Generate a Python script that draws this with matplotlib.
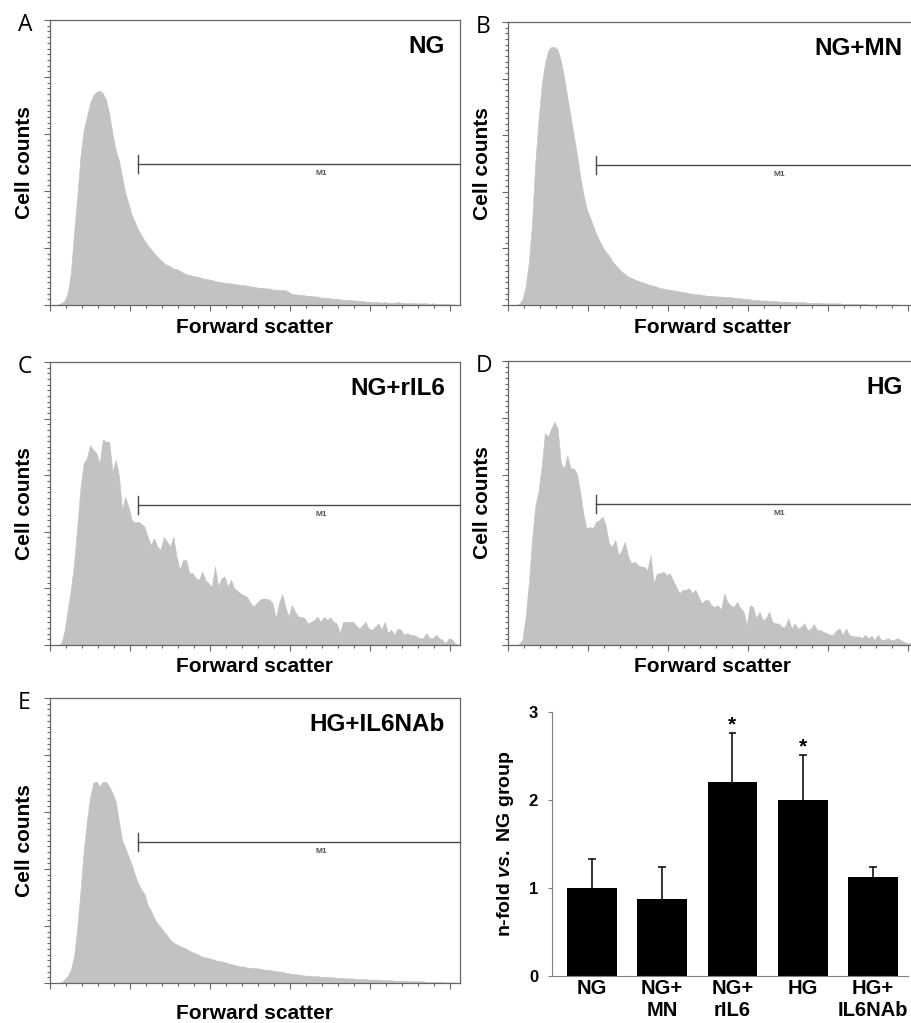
import matplotlib
matplotlib.use('Agg')
import matplotlib.pyplot as plt
import matplotlib.ticker as ticker
import numpy as np


# forward scatter histograms, 8 channels per bin over a 0-1024 channel range
bin_width = 8

hist_ng = [0, 0, 1, 3, 7, 20, 56, 126, 190, 260, 307, 330, 354, 368, 374, 376, 371, 360, 336, 301,
           272, 254, 225, 196, 178, 158, 146, 132, 123, 113, 105, 98, 91, 85, 79, 74, 70, 68, 64, 63,
           60, 57, 54, 53, 51, 50, 49, 47, 46, 45, 44, 42, 41, 40, 39, 38, 38, 37, 36, 35,
           35, 34, 33, 32, 31, 30, 30, 29, 29, 27, 27, 26, 26, 26, 23, 19, 19, 18, 18, 17,
           16, 16, 15, 15, 13, 13, 12, 12, 11, 11, 10, 9, 9, 9, 8, 8, 7, 7, 6, 6,
           5, 5, 5, 4, 5, 4, 4, 4, 5, 4, 4, 3, 4, 3, 3, 3, 3, 3, 2, 3,
           2, 2, 2, 2, 2, 1, 1, 0]

hist_ng_mn = [0, 0, 0, 2, 10, 32, 76, 144, 250, 326, 388, 426, 449, 456, 456, 451, 432, 403, 368, 335,
              300, 268, 229, 197, 171, 156, 141, 126, 114, 103, 94, 88, 78, 71, 65, 59, 55, 50, 48, 45,
              43, 41, 39, 37, 35, 34, 32, 30, 29, 28, 27, 26, 25, 24, 23, 22, 21, 20, 19, 19,
              18, 17, 16, 16, 16, 15, 15, 14, 14, 14, 13, 12, 12, 11, 11, 10, 9, 9, 8, 8,
              8, 7, 7, 7, 6, 6, 6, 6, 5, 5, 5, 5, 5, 4, 4, 4, 4, 4, 3, 3,
              3, 3, 3, 3, 2, 2, 2, 2, 2, 2, 2, 2, 1, 1, 1, 1, 1, 1, 1, 1,
              1, 1, 0, 0, 0, 0, 0, 0]

hist_ng_ril6 = [0, 0, 0, 3, 24, 62, 97, 144, 209, 277, 321, 330, 353, 345, 339, 321, 363, 359, 359, 306,
                327, 300, 239, 262, 244, 221, 216, 218, 214, 209, 191, 177, 189, 174, 168, 191, 183, 174, 191, 156,
                133, 150, 150, 127, 127, 118, 115, 130, 115, 109, 103, 139, 103, 118, 121, 103, 115, 100, 96, 91,
                88, 85, 75, 68, 74, 80, 82, 82, 80, 74, 47, 74, 90, 67, 50, 71, 59, 50, 50, 47,
                38, 41, 44, 50, 41, 50, 44, 49, 41, 38, 21, 41, 41, 41, 41, 35, 29, 35, 41, 29,
                27, 32, 38, 27, 41, 21, 27, 18, 29, 27, 18, 21, 18, 18, 15, 12, 12, 21, 12, 12,
                18, 12, 9, 3, 12, 10, 3, 0]

hist_hg = [0, 0, 0, 2, 9, 50, 109, 185, 244, 270, 314, 373, 367, 381, 393, 381, 320, 311, 334, 311,
           311, 302, 270, 232, 205, 208, 205, 217, 220, 226, 211, 179, 173, 185, 158, 167, 182, 156, 144, 147,
           141, 138, 138, 132, 158, 109, 126, 126, 129, 123, 126, 114, 103, 91, 97, 97, 100, 91, 97, 85,
           73, 79, 79, 70, 67, 70, 62, 91, 76, 70, 67, 76, 65, 59, 35, 70, 67, 47, 59, 44,
           47, 59, 41, 38, 38, 32, 32, 47, 29, 38, 29, 32, 38, 26, 29, 37, 26, 26, 23, 21,
           18, 18, 26, 29, 18, 29, 18, 16, 15, 15, 12, 18, 12, 16, 9, 18, 9, 9, 12, 9,
           9, 12, 9, 6, 3, 3, 0]

hist_hg_il6nab = [0, 0, 0, 1, 6, 12, 23, 47, 96, 161, 231, 284, 325, 351, 354, 345, 353, 353, 345, 333,
                  319, 284, 251, 237, 222, 208, 190, 175, 164, 156, 137, 127, 114, 105, 98, 91, 84, 76, 71, 68,
                  65, 63, 60, 57, 54, 52, 49, 46, 45, 44, 42, 40, 39, 38, 37, 35, 33, 32, 30, 29,
                  29, 27, 27, 26, 26, 25, 24, 23, 23, 22, 21, 20, 20, 18, 17, 16, 16, 15, 14, 13,
                  13, 12, 12, 12, 11, 11, 11, 10, 10, 9, 9, 9, 8, 8, 8, 7, 7, 7, 7, 6,
                  6, 6, 6, 5, 5, 5, 5, 4, 4, 4, 4, 4, 3, 3, 3, 3, 3, 2, 2, 2,
                  2, 2, 2, 1, 1, 1, 1, 0]

# M1 gate
m1_start = 221
m1_end = 1024
m1_level = 248

# summary bar chart
bar_groups = ['NG', 'NG+\nMN', 'NG+\nrIL6', 'HG', 'HG+\nIL6NAb']
bar_means = [1.0, 0.87, 2.21, 2.0, 1.12]
bar_err_up = [0.33, 0.37, 0.55, 0.51, 0.12]
bar_sig = [False, False, True, True, False]


HIST_GREY = '#c2c2c2'
FRAME_GREY = '#666666'
W, H = 911, 1023


def px_axes(fig, left, top, right, bottom):
    return fig.add_axes([left / W, 1 - bottom / H, (right - left) / W, (bottom - top) / H])


def plot_histogram(ax, counts, title, letter, xlabel_drop):
    centers = (np.arange(len(counts)) + 0.5) * bin_width
    ax.fill_between(centers, counts, 0, facecolor=HIST_GREY, edgecolor=HIST_GREY,
                    linewidth=0.4)
    ax.set_xlim(0, 1024)
    ax.set_ylim(0, 500)

    ax.xaxis.set_major_locator(ticker.MultipleLocator(200))
    ax.xaxis.set_minor_locator(ticker.MultipleLocator(40))
    ax.yaxis.set_major_locator(ticker.MultipleLocator(100))
    ax.yaxis.set_minor_locator(ticker.MultipleLocator(10))
    ax.tick_params(which='both', direction='out', color=FRAME_GREY, width=0.8,
                   labelbottom=False, labelleft=False)
    ax.tick_params(which='major', length=4)
    ax.tick_params(which='minor', length=2)
    for sp in ax.spines.values():
        sp.set_color(FRAME_GREY)
        sp.set_linewidth(0.9)

    # M1 marker
    ax.plot([m1_start, m1_end], [m1_level, m1_level], color='#4a4a4a', lw=1.0, clip_on=False)
    ax.plot([m1_start, m1_start], [m1_level - 16, m1_level + 16], color='#4a4a4a', lw=1.0)
    ax.text(678, m1_level - 17, 'M1', fontsize=6, fontweight='bold', color='#555555',
            ha='center', va='center')

    ax.text(0.963, 0.885, title, transform=ax.transAxes, ha='right', va='baseline',
            fontsize=17.5, fontweight='bold')
    ax.text(-0.078, 0.96, letter, transform=ax.transAxes, ha='left', va='baseline',
            fontsize=16.5, family='Open Sans')
    ax.text(-0.063, 0.5, 'Cell counts', transform=ax.transAxes, rotation=90,
            ha='center', va='center', fontsize=15, fontweight='bold')
    height_px = ax.get_position().height * H
    ax.text(0.5, -xlabel_drop / height_px, 'Forward scatter', transform=ax.transAxes,
            ha='center', va='baseline', fontsize=15, fontweight='bold')


def plot_bars(ax):
    x = np.arange(len(bar_groups))
    tops = np.array(bar_means) + np.array(bar_err_up)
    ax.bar(x, bar_means, width=0.71, color='black', zorder=2)
    # upper-only error bars with a cap
    ax.vlines(x, bar_means, tops, color='black', lw=1.1, zorder=1)
    ax.hlines(tops, x - 0.055, x + 0.055, color='black', lw=1.1, zorder=1)
    for xi, t, s in zip(x, tops, bar_sig):
        if s:
            ax.text(xi, t - 0.02, '*', ha='center', va='bottom', fontsize=15, fontweight='bold')

    ax.set_xlim(-0.57, 4.5)
    ax.set_ylim(0, 3)
    ax.set_yticks([0, 1, 2, 3])
    ax.set_xticks(x)
    ax.set_xticklabels(bar_groups, fontsize=14.5, fontweight='bold')
    ax.set_yticklabels(['0', '1', '2', '3'], fontsize=12, fontweight='bold')
    ax.tick_params(axis='x', length=0, pad=2)
    ax.tick_params(axis='y', length=3, pad=7, color='#808080')
    ax.spines['top'].set_visible(False)
    ax.spines['right'].set_visible(False)
    ax.spines['left'].set_color('#808080')
    ax.spines['bottom'].set_color('#808080')
    ax.text(-0.132, 0.5, r'n-fold $\it{vs.}$ NG group', transform=ax.transAxes, rotation=90,
            ha='center', va='center', fontsize=14, fontweight='bold')


def main():
    plt.rcParams['font.family'] = ['Liberation Sans', 'DejaVu Sans']
    plt.rcParams['mathtext.fontset'] = 'custom'
    plt.rcParams['mathtext.it'] = 'Liberation Sans:italic:bold'
    plt.rcParams['mathtext.rm'] = 'Liberation Sans:bold'

    fig = plt.figure(figsize=(W / 100, H / 100), dpi=100)

    ax_a = px_axes(fig, 50, 20, 460, 305)
    ax_b = px_axes(fig, 508, 22, 918, 305)
    ax_c = px_axes(fig, 50, 362, 460, 645)
    ax_d = px_axes(fig, 508, 361, 918, 645)
    ax_e = px_axes(fig, 50, 698, 460, 983)
    ax_f = px_axes(fig, 552, 712, 908, 976)

    plot_histogram(ax_a, hist_ng, 'NG', 'A', 28)
    plot_histogram(ax_b, hist_ng_mn, 'NG+MN', 'B', 28)
    plot_histogram(ax_c, hist_ng_ril6, 'NG+rIL6', 'C', 27)
    plot_histogram(ax_d, hist_hg, 'HG', 'D', 27)
    plot_histogram(ax_e, hist_hg_il6nab, 'HG+IL6NAb', 'E', 36)
    plot_bars(ax_f)

    fig.savefig('out.png', dpi=100)


if __name__ == '__main__':
    main()
